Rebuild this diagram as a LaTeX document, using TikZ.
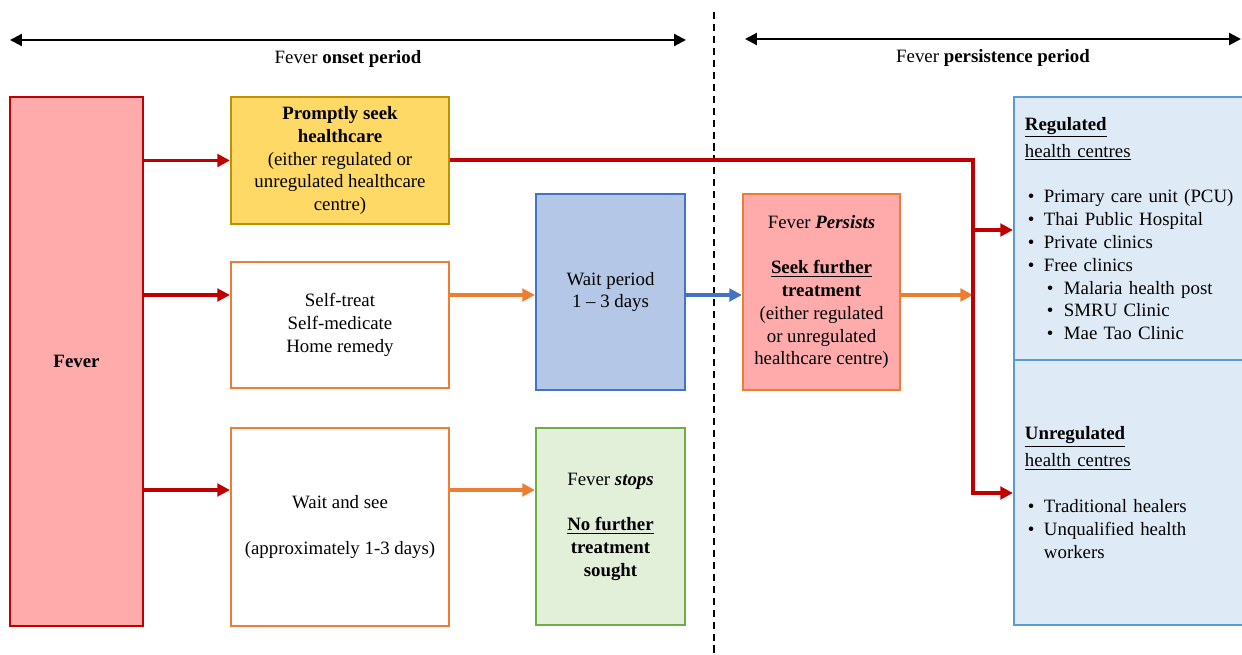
\documentclass[tikz,border=0pt]{standalone}
\usepackage{fontspec}
\setmainfont{Liberation Serif}
\usetikzlibrary{positioning}
\usetikzlibrary{arrows.meta}
\definecolor{feverred}{HTML}{C00000}
\definecolor{feverfill}{HTML}{FFABAB}
\definecolor{promptfill}{HTML}{FFD966}
\definecolor{promptline}{HTML}{BF9000}
\definecolor{orangeline}{HTML}{ED7D31}
\definecolor{waitfill}{HTML}{B4C7E7}
\definecolor{waitline}{HTML}{4472C4}
\definecolor{stopfill}{HTML}{E2F0D9}
\definecolor{stopline}{HTML}{70AD47}
\definecolor{centrefill}{HTML}{DEEBF7}
\definecolor{centreline}{HTML}{5B9BD5}
\newcommand{\clinicitem}[1]{\makebox[0.475cm][l]{\hspace{0.075cm}\textbullet}#1}
\newcommand{\subclinicitem}[1]{\makebox[0.975cm][l]{\hspace{0.55cm}\textbullet}#1}
\tikzset{stagebox/.style={
        draw, line width=1.5pt, align=center, inner sep=0pt
    },
    centrebox/.style={
        draw=centreline, fill=centrefill, line width=1.5pt, align=left,
        text width=5.35cm, inner xsep=0.275cm, inner ysep=0pt,
        minimum height=#1
    },
    flowarrow/.style={
        line width=#1, -{Triangle[length=9pt,width=9pt]}
    }
}

\begin{document}
\begin{tikzpicture}[x=0.025cm, y=-0.025cm, font=\fontsize{13.4}{16.2}\selectfont]

\useasboundingbox (0,0) rectangle (1242,655);

\node[stagebox, draw=feverred, fill=feverfill, minimum width=3.325cm, minimum height=13.225cm] (fever) at (76.5,361.5) {\textbf{Fever}};

\node[stagebox, draw=promptline, fill=promptfill, minimum width=5.45cm, minimum height=3.175cm] (promptly) at (340,160.5) {\textbf{Promptly seek}\\\textbf{healthcare}\\(either regulated or\\unregulated healthcare\\centre)};
\node[stagebox, draw=orangeline, fill=white, minimum width=5.45cm, minimum height=3.15cm] (selftreat) at (340,325) {Self-treat\\Self-medicate\\Home remedy};
\node[stagebox, draw=orangeline, fill=white, minimum width=5.45cm, minimum height=4.95cm] (waitsee) at (340,527) {Wait and see\\[16.2pt](approximately 1-3 days)};

\node[stagebox, draw=waitline, fill=waitfill, minimum width=3.725cm, minimum height=4.9cm] (waitperiod) at (610.5,292) {Wait period\\1 -- 3 days};
\node[stagebox, draw=stopline, fill=stopfill, minimum width=3.725cm, minimum height=4.925cm] (stops) at (610.5,526.5) {Fever \textbf{\textit{stops}}\\[16.2pt]\textbf{\underline{No further}}\\\textbf{treatment}\\\textbf{sought}};

\node[stagebox, draw=orangeline, fill=feverfill, minimum width=3.925cm, minimum height=4.9cm] (persists) at (821.5,292) {Fever \textbf{\textit{Persists}}\\[16.2pt]\textbf{\underline{Seek further}}\\\textbf{treatment}\\(either regulated\\or unregulated\\healthcare centre)};

\node[centrebox=6.575cm] (regulated) at (1132,228.5) {\textbf{\underline{Regulated}}\\[3pt]\underline{health centres}\\[16.2pt]\clinicitem{Primary care unit (PCU)}\\\clinicitem{Thai Public Hospital}\\\clinicitem{Private clinics}\\\clinicitem{Free clinics}\\\subclinicitem{Malaria health post}\\\subclinicitem{SMRU Clinic}\\\subclinicitem{Mae Tao Clinic}\\[-2pt]};
\node[centrebox=6.625cm] (unregulated) at (1132,492.5) {\textbf{\underline{Unregulated}}\\[3pt]\underline{health centres}\\[16.2pt]\clinicitem{Traditional healers}\\\clinicitem{Unqualified health}\\\hspace*{0.475cm}workers};

\coordinate (onsetL) at (10,40);
\coordinate (onsetR) at (686,40);
\coordinate (persistL) at (745,39);
\coordinate (persistR) at (1241,39);
\coordinate (dividetop) at (714,12);
\coordinate (dividebot) at (714,655);
\coordinate (rowb) at (0,295);
\coordinate (rowc) at (0,490);
\coordinate (bend) at (973,160);
\coordinate (branchreg) at (973,230);
\coordinate (branchunreg) at (973,493);

\draw[line width=1.6pt, {Triangle[length=8.5pt,width=8.5pt]}-{Triangle[length=8.5pt,width=8.5pt]}] (onsetL) -- node[midway, below=3pt] {Fever \textbf{onset period}} (onsetR);
\draw[line width=1.6pt, {Triangle[length=8.5pt,width=8.5pt]}-{Triangle[length=8.5pt,width=8.5pt]}] (persistL) -- node[midway, below=3pt] {Fever \textbf{persistence period}} (persistR);
\draw[line width=0.9pt, dash pattern=on 5pt off 3.5pt] (dividetop) -- (dividebot);

\draw[flowarrow=2.6pt, feverred] (fever.east |- promptly) -- (promptly.west);
\draw[flowarrow=2.6pt, feverred] (fever.east |- rowb) -- (selftreat.west |- rowb);
\draw[flowarrow=2.6pt, feverred] (fever.east |- rowc) -- (waitsee.west |- rowc);

\draw[flowarrow=2.2pt, orangeline] (selftreat.east |- rowb) -- (waitperiod.west |- rowb);
\draw[flowarrow=2.2pt, orangeline] (waitsee.east |- rowc) -- (stops.west |- rowc);
\draw[flowarrow=2.2pt, waitline] (waitperiod.east |- rowb) -- (persists.west |- rowb);
\draw[flowarrow=2.2pt, orangeline] (persists.east |- rowb) -- (bend |- rowb);

\draw[flowarrow=2.6pt, feverred] (promptly.east |- bend) -- (bend) -- (branchunreg) -- (unregulated.west |- branchunreg);
\draw[flowarrow=2.6pt, feverred] (branchreg) -- (regulated.west |- branchreg);

\end{tikzpicture}
\end{document}
